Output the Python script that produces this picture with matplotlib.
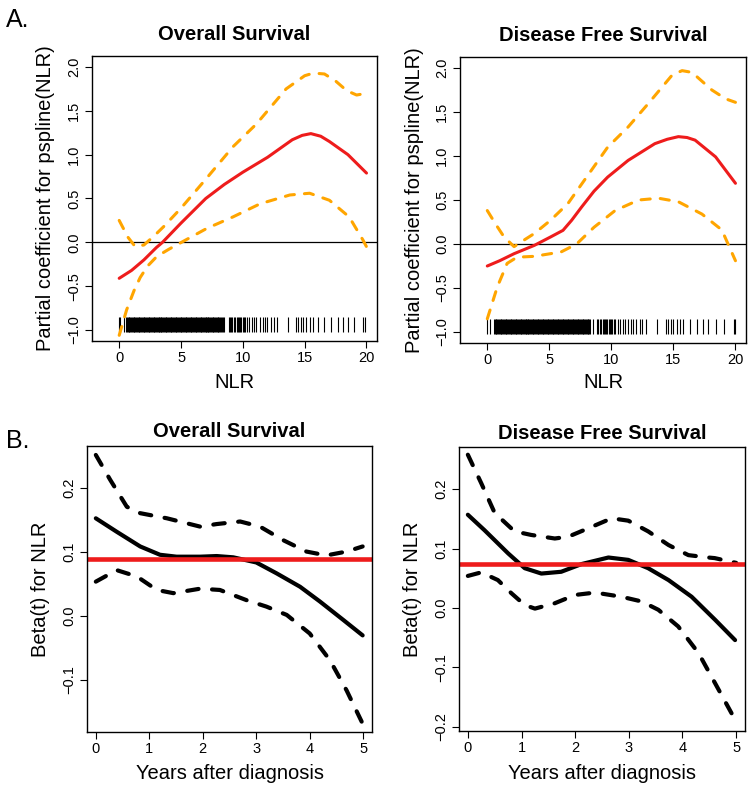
import matplotlib

matplotlib.use("Agg")
import matplotlib.pyplot as plt

plt.rcParams["font.family"] = ["Liberation Sans", "DejaVu Sans"]

# ---------------- A. partial effect of pspline(NLR) ----------------
nlr_ticks = [0, 5, 10, 15, 20]
coef_ticks = [-1.0, -0.5, 0.0, 0.5, 1.0, 1.5, 2.0]

# Overall survival
os_fit_x = [0, 1, 2, 3, 3.5, 5, 7, 8.5, 10, 12, 13, 14, 14.8, 15.5, 16.3, 17, 18.5, 20]
os_fit_y = [-0.41, -0.32, -0.2, -0.06, 0.0, 0.22, 0.50, 0.66, 0.80, 0.97, 1.07, 1.17, 1.22, 1.24, 1.21, 1.15, 1.0, 0.79]
os_hi_x = [0, 0.7, 1.3, 2, 2.8, 3.6, 5, 7, 9.2, 11.1, 13.5, 15, 15.7, 16.6, 17.5, 18.4, 19.2, 20]
os_hi_y = [0.25, 0.06, -0.05, -0.03, 0.07, 0.18, 0.39, 0.72, 1.09, 1.35, 1.75, 1.9, 1.93, 1.92, 1.84, 1.73, 1.68, 1.70]
os_lo_x = [0, 0.6, 1.2, 1.7, 2.3, 3.05, 4, 4.9, 7.1, 9.2, 11.4, 13.8, 15.4, 17, 18.6, 19.7, 20]
os_lo_y = [-1.06, -0.77, -0.55, -0.40, -0.27, -0.16, -0.08, -0.01, 0.16, 0.29, 0.44, 0.54, 0.56, 0.48, 0.29, 0.03, -0.05]

# Disease free survival
dfs_fit_x = [0, 1, 2.16, 3.8, 5.1, 6.1, 6.8, 7.6, 8.6, 9.7, 11.35, 13.5, 14.5, 15.4, 16.1, 16.75, 18.4, 20]
dfs_fit_y = [-0.25, -0.19, -0.11, -0.015, 0.08, 0.155, 0.27, 0.42, 0.60, 0.76, 0.95, 1.14, 1.19, 1.22, 1.21, 1.18, 0.99, 0.69]
dfs_hi_x = [0, 0.7, 1.35, 2.16, 2.8, 3.8, 5.1, 6.5, 8.1, 9.7, 11.35, 13, 14.9, 15.7, 16.5, 18.1, 19.2, 20]
dfs_hi_y = [0.38, 0.22, 0.08, -0.03, 0.03, 0.12, 0.27, 0.46, 0.78, 1.10, 1.33, 1.60, 1.92, 1.97, 1.95, 1.75, 1.65, 1.61]
dfs_lo_x = [0, 0.8, 1.6, 2.4, 3.8, 5.95, 7.2, 8.6, 10.3, 12.2, 13.8, 15.4, 17.3, 18.9, 20]
dfs_lo_y = [-0.85, -0.49, -0.22, -0.15, -0.14, -0.09, 0.0, 0.19, 0.38, 0.50, 0.52, 0.48, 0.34, 0.16, -0.19]

# rug of observed NLR values (dense block drawn with wider ticks)
os_rug_dense = [0.7, 0.9, 1.1, 1.3, 1.5, 1.7, 1.9, 2.1, 2.3, 2.5, 2.7, 2.9, 3.1, 3.3,
                3.5, 3.7, 3.9, 4.1, 4.3, 4.5, 4.7, 4.9, 5.1, 5.3, 5.5, 5.7, 5.9, 6.1,
                6.3, 6.5, 6.7, 6.9, 7.1, 7.3, 7.5, 7.7, 7.9, 8.1, 8.3]
os_rug = [0.0, 0.08, 0.4, 0.52, 8.5, 8.85, 8.95, 9.05, 9.15, 9.27, 9.38, 9.49, 9.6,
          9.70, 9.8, 9.89, 10.0, 10.08, 10.2, 10.3, 10.5, 10.7, 10.9, 11.1, 11.37,
          11.6, 11.77, 11.96, 12.3, 12.5, 12.8, 13.65, 14.3, 14.5, 14.7, 14.9, 15.1,
          15.4, 15.7, 16.1, 16.6, 17.15, 17.7, 18.1, 18.5, 19.0, 19.7, 19.9]
dfs_rug_dense = [0.6, 0.8, 1.0, 1.2, 1.4, 1.6, 1.8, 2.0, 2.2, 2.4, 2.6, 2.8, 3.0, 3.2,
                 3.4, 3.6, 3.8, 4.0, 4.2, 4.4, 4.6, 4.8, 5.0, 5.2, 5.4, 5.6, 5.8, 6.0,
                 6.2, 6.4, 6.6, 6.8, 7.0, 7.2, 7.4, 7.6, 7.8, 8.0, 8.2]
dfs_rug = [0.0, 0.2, 8.5, 8.85, 8.95, 9.07, 9.18, 9.29, 9.38, 9.47, 9.57, 9.66, 9.77,
           9.88, 9.97, 10.07, 10.18, 10.28, 10.5, 10.7, 10.9, 11.1, 11.36, 11.55,
           11.77, 11.98, 12.3, 12.5, 12.8, 13.65, 14.4, 14.6, 14.8, 15.0, 15.3, 15.5,
           15.8, 16.35, 16.9, 17.4, 17.8, 18.4, 19.05, 19.85, 20.0]

# ---------------- B. time-varying coefficient beta(t) ----------------
year_ticks = [0, 1, 2, 3, 4, 5]
os_beta_ticks = [-0.1, 0.0, 0.1, 0.2]
dfs_beta_ticks = [-0.2, -0.1, 0.0, 0.1, 0.2]

os_bt_x = [0, 0.39, 0.83, 1.2, 1.51, 1.95, 2.26, 2.57, 3.0, 3.38, 3.82, 4.19, 4.63, 4.99]
os_bt_y = [0.152, 0.131, 0.108, 0.095, 0.092, 0.092, 0.093, 0.091, 0.083, 0.066, 0.045, 0.022, -0.007, -0.031]
os_bt_hi_x = [0, 0.27, 0.58, 0.83, 1.33, 1.95, 2.26, 2.7, 3.07, 3.5, 3.94, 4.31, 4.69, 4.99]
os_bt_hi_y = [0.251, 0.212, 0.170, 0.160, 0.152, 0.139, 0.143, 0.147, 0.139, 0.118, 0.100, 0.094, 0.100, 0.108]
os_bt_lo_x = [0, 0.39, 0.77, 1.14, 1.45, 1.95, 2.32, 2.82, 3.19, 3.57, 4.0, 4.38, 4.69, 4.99]
os_bt_lo_y = [0.053, 0.071, 0.061, 0.040, 0.035, 0.042, 0.040, 0.024, 0.014, 0.001, -0.028, -0.070, -0.117, -0.169]
os_beta_const = 0.088

dfs_bt_x = [0, 0.31, 0.75, 1.06, 1.37, 1.74, 2.12, 2.62, 2.99, 3.36, 3.74, 4.17, 4.61, 4.98]
dfs_bt_y = [0.157, 0.131, 0.092, 0.067, 0.058, 0.061, 0.074, 0.085, 0.081, 0.067, 0.047, 0.019, -0.020, -0.054]
dfs_bt_hi_x = [0, 0.25, 0.5, 0.87, 1.18, 1.62, 1.87, 2.24, 2.68, 2.99, 3.36, 3.74, 4.11, 4.48, 4.6, 5.0]
dfs_bt_hi_y = [0.258, 0.210, 0.160, 0.129, 0.123, 0.117, 0.120, 0.134, 0.151, 0.147, 0.129, 0.106, 0.089, 0.085, 0.084, 0.076]
dfs_bt_lo_x = [0, 0.25, 0.56, 0.81, 1.06, 1.25, 1.62, 2.0, 2.37, 2.86, 3.24, 3.55, 3.92, 4.3, 4.61, 4.95]
dfs_bt_lo_y = [0.054, 0.060, 0.047, 0.025, 0.005, -0.001, 0.008, 0.022, 0.026, 0.019, 0.011, -0.003, -0.031, -0.076, -0.127, -0.183]
dfs_beta_const = 0.0736

W, H = 754, 791


def px_axes(fig, left, top, right, bottom):
    return fig.add_axes([left / W, 1 - bottom / H, (right - left) / W, (bottom - top) / H])


def style_axes(ax, xlim, ylim, xticks, yticks):
    ax.set_xlim(*xlim)
    ax.set_ylim(*ylim)
    ax.set_xticks(xticks)
    ax.set_yticks(yticks)
    ax.tick_params(direction="out", length=5, width=0.8, labelsize=10.5, pad=2.5)
    ax.tick_params(axis="y", labelrotation=90, pad=3)
    for lab in ax.get_yticklabels():
        lab.set_verticalalignment("center")
    for s in ax.spines.values():
        s.set_linewidth(1.0)


def dashed(ax, x, y, color, lw, dashes):
    (ln,) = ax.plot(x, y, color=color, lw=lw)
    ln.set_dashes(dashes)
    ln.set_dash_capstyle("round")
    return ln


def main():
    fig = plt.figure(figsize=(W / 100, H / 100), dpi=100)

    panels_a = [
        (px_axes(fig, 92, 56, 377, 341), os_fit_x, os_fit_y,
         os_hi_x, os_hi_y, os_lo_x, os_lo_y, os_rug_dense, os_rug),
        (px_axes(fig, 460, 57, 746, 343), dfs_fit_x, dfs_fit_y,
         dfs_hi_x, dfs_hi_y, dfs_lo_x, dfs_lo_y, dfs_rug_dense, dfs_rug),
    ]
    for ax, fx, fy, hx, hy, lx, ly, rd, rs in panels_a:
        style_axes(ax, (-2.2, 20.85), (-1.125, 2.125), nlr_ticks, coef_ticks)
        ax.axhline(0, color="black", lw=0.9)
        ax.vlines(rd, -1.02, -0.85, color="black", lw=2.2)
        ax.vlines(rs, -1.02, -0.85, color="black", lw=0.8)
        dashed(ax, hx, hy, "#FFA500", 2.2, (3, 3.3))
        dashed(ax, lx, ly, "#FFA500", 2.2, (3, 3.3))
        ax.plot(fx, fy, color="#ee1c1c", lw=2.2, solid_capstyle="round")

    panels_b = [
        (px_axes(fig, 87, 446, 372, 732), os_beta_ticks, (-0.182, 0.265),
         os_bt_x, os_bt_y, os_bt_hi_x, os_bt_hi_y, os_bt_lo_x, os_bt_lo_y, os_beta_const),
        (px_axes(fig, 459, 447, 745, 731), dfs_beta_ticks, (-0.207, 0.271),
         dfs_bt_x, dfs_bt_y, dfs_bt_hi_x, dfs_bt_hi_y, dfs_bt_lo_x, dfs_bt_lo_y, dfs_beta_const),
    ]
    for ax, yt, ylim, bx, by, hx, hy, lx, ly, const in panels_b:
        style_axes(ax, (-0.165, 5.165), ylim, year_ticks, yt)
        ax.plot(bx, by, color="black", lw=3, solid_capstyle="round")
        dashed(ax, hx, hy, "black", 3, (2.75, 3.25))
        dashed(ax, lx, ly, "black", 3, (2.75, 3.25))
        ax.axhline(const, color="#ee1c1c", lw=3.3)

    # titles, axis labels and panel letters (placed in pixels like the original)
    def ftext(xpx, ypx, s, **kw):
        fig.text(xpx / W, 1 - ypx / H, s, **kw)

    ftext(234.5, 40, "Overall Survival", ha="center", va="baseline", fontsize=14.5, fontweight="bold")
    ftext(603, 41, "Disease Free Survival", ha="center", va="baseline", fontsize=14.5, fontweight="bold")
    ftext(229.5, 437, "Overall Survival", ha="center", va="baseline", fontsize=14.5, fontweight="bold")
    ftext(602, 439, "Disease Free Survival", ha="center", va="baseline", fontsize=14.5, fontweight="bold")

    ftext(234.5, 388, "NLR", ha="center", va="baseline", fontsize=14.5)
    ftext(603, 388, "NLR", ha="center", va="baseline", fontsize=14.5)
    ftext(229.5, 779, "Years after diagnosis", ha="center", va="baseline", fontsize=14.5)
    ftext(602, 779, "Years after diagnosis", ha="center", va="baseline", fontsize=14.5)

    ftext(45.5, 198.5, "Partial coefficient for pspline(NLR)", ha="center", va="center",
          rotation=90, fontsize=14.5)
    ftext(414, 200, "Partial coefficient for pspline(NLR)", ha="center", va="center",
          rotation=90, fontsize=14.5)
    ftext(40.5, 589, "Beta(t) for NLR", ha="center", va="center", rotation=90, fontsize=14.5)
    ftext(412.8, 589, "Beta(t) for NLR", ha="center", va="center", rotation=90, fontsize=14.5)

    ftext(6, 27, "A.", ha="left", va="baseline", fontsize=18)
    ftext(6, 448, "B.", ha="left", va="baseline", fontsize=18)

    fig.savefig("out.png", dpi=100)
    plt.close(fig)
    return 0


if __name__ == "__main__":
    raise SystemExit(main())
